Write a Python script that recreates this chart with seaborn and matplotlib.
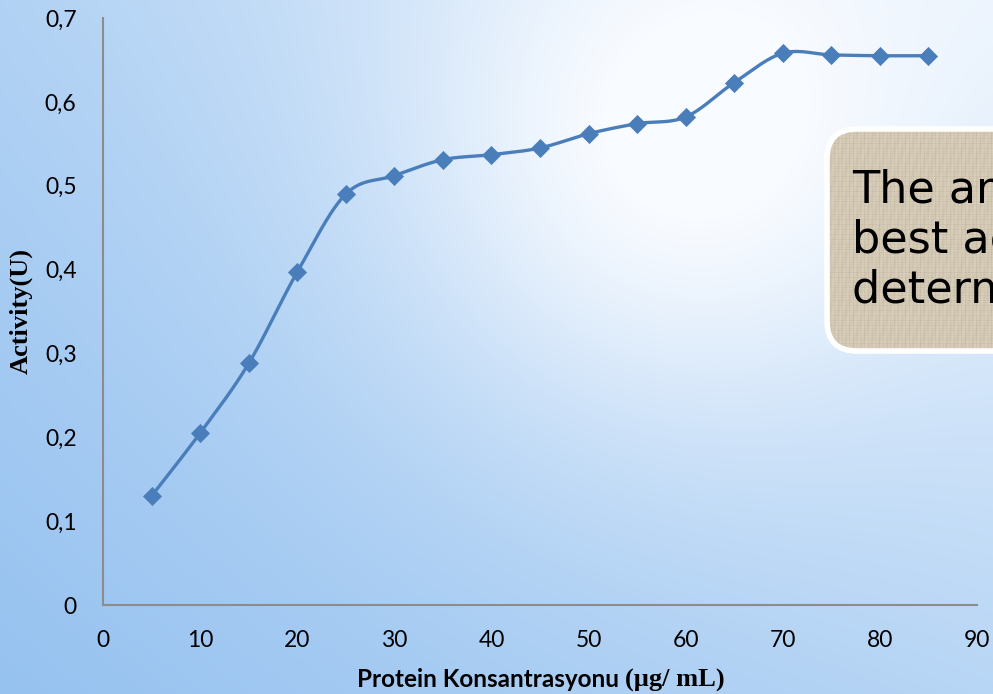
import numpy as np
import pandas as pd
import matplotlib
matplotlib.use("Agg")
import matplotlib.pyplot as plt
import seaborn as sns
from matplotlib.patches import FancyBboxPatch
from matplotlib.colors import to_rgb

# Enzyme activity against protein concentration
concentration = [5, 10, 15, 20, 25, 30, 35, 40, 45, 50, 55, 60, 65, 70, 75, 80, 85]
activity = [0.130, 0.205, 0.288, 0.397, 0.490, 0.512, 0.531, 0.537, 0.545,
            0.562, 0.574, 0.582, 0.623, 0.658, 0.656, 0.655, 0.655]
x_ticks = [0, 10, 20, 30, 40, 50, 60, 70, 80, 90]
y_ticks = [0, 0.1, 0.2, 0.3, 0.4, 0.5, 0.6, 0.7]
y_tick_labels = ["0", "0,1", "0,2", "0,3", "0,4", "0,5", "0,6", "0,7"]
note_lines = ["The amount of protein that gives the",
              "best activity was",
              "determined as 70 µg/mL"]

sns.set_theme(style="white")
plt.rcParams["font.family"] = ["Lato", "DejaVu Sans"]

W, H = 993, 694
fig = plt.figure(figsize=(W / 100, H / 100), dpi=100)

# Blue backdrop: corner-weighted shading with a soft bright spot up right
bg = fig.add_axes([0, 0, 1, 1])
bg.set_xlim(0, W)
bg.set_ylim(H, 0)
bg.axis("off")
yy, xx = np.mgrid[0:H, 0:W]
u, v = xx / W, yy / H
shade = (0.72 * (1 - u) * (1 - v) + 0.18 * u * (1 - v)
         + 1.0 * (1 - u) * v + 0.66 * u * v)
glow = 0.5 * np.exp(-((np.hypot(xx - 660, yy - 170)) / 270) ** 2)
t = np.clip(shade - glow, 0, 1)[..., None]
c_light = np.array(to_rgb("#f8fbff"))
c_blue = np.array(to_rgb("#96c2f0"))
bg.imshow(c_light * (1 - t) + c_blue * t, extent=[0, W, H, 0], aspect="auto", zorder=0)

# Rounded note box with a woven linen fill
box_x0, box_y0, box_x1, box_y1 = 827, 129, 1120, 351
box = FancyBboxPatch((box_x0, box_y0), box_x1 - box_x0, box_y1 - box_y0,
                     boxstyle="round,pad=0,rounding_size=30",
                     facecolor="none", edgecolor="white", lw=4, zorder=3)
bg.add_patch(box)
ty, tx = np.mgrid[box_y0:box_y1, box_x0:W]
weave = (0.55 * np.sin(tx * 2.3) ** 8 + 0.45 * np.sin(ty * 1.9) ** 8
         + 0.25 * np.sin(tx * 0.37 + ty * 0.11) ** 2)
weave = weave / weave.max()
c_linen = np.array(to_rgb("#d9cfbb"))
c_thread = np.array(to_rgb("#aa9f89"))
linen = c_linen * (1 - 0.5 * weave[..., None]) + c_thread * 0.5 * weave[..., None]
tex = bg.imshow(linen, extent=[box_x0, W, box_y1, box_y0], aspect="auto", zorder=2)
tex.set_clip_path(box)
for i, line in enumerate(note_lines):
    bg.text(852, 203 + 50 * i, line, fontsize=32, family="DejaVu Sans",
            color="black", va="baseline", ha="left", zorder=4)

# Chart area
ax = fig.add_axes([103 / W, (H - 605) / H, 874 / W, 587 / H])
ax.patch.set_alpha(0)
ax.set_xlim(0, 90)
ax.set_ylim(0, 0.7)

# Smoothed connecting line (cardinal spline through the measured points)
pts = ax.transData.transform(np.column_stack([concentration, activity]))
ext = np.vstack([pts[0], pts, pts[-1]])
curve = [pts[0]]
s = np.linspace(0, 1, 30)[1:, None]
for i in range(1, len(ext) - 2):
    p0, p1, p2, p3 = ext[i - 1], ext[i], ext[i + 1], ext[i + 2]
    c1 = p1 + (p2 - p0) / 6
    c2 = p2 - (p3 - p1) / 6
    seg = ((1 - s) ** 3) * p1 + 3 * ((1 - s) ** 2) * s * c1 + 3 * (1 - s) * s ** 2 * c2 + s ** 3 * p2
    curve.append(seg)
curve = ax.transData.inverted().transform(np.vstack(curve))
smooth = pd.DataFrame({"x": curve[:, 0], "y": curve[:, 1]})
sns.lineplot(data=smooth, x="x", y="y", sort=False, estimator=None,
             color="#4a7ebb", lw=2.4, ax=ax, zorder=2)
sns.scatterplot(x=concentration, y=activity, marker="D", s=95, color="#4a7ebb",
                edgecolor="#4a7ebb", linewidth=0, ax=ax, zorder=3, clip_on=False)

ax.set_xticks(x_ticks)
ax.set_xticklabels([str(v) for v in x_ticks])
ax.set_yticks(y_ticks)
ax.set_yticklabels(y_tick_labels)
ax.tick_params(length=0, labelsize=16.5, colors="black")
ax.tick_params(axis="y", pad=19)
ax.tick_params(axis="x", pad=18)
sns.despine(ax=ax)
for side in ("left", "bottom"):
    ax.spines[side].set_color("#8c8c8c")
    ax.spines[side].set_linewidth(1.5)

ax.set_xlabel("")
ax.set_ylabel("Activity(U)", family=["Liberation Serif"], fontweight="bold",
              fontsize=19, color="black")
ax.yaxis.set_label_coords(-0.080, 0.5)

# x-axis title: sans part followed by a serif unit
t1 = fig.text(357 / W, 1 - 687 / H, "Protein Konsantrasyonu ", fontsize=17.5,
              fontweight="bold", ha="left", va="baseline", color="black")
fig.canvas.draw()
bb = t1.get_window_extent()
fig.text(bb.x1 / W, 1 - 687 / H, "(µg/ mL)", fontsize=19, fontweight="bold",
         family=["Liberation Serif"], ha="left", va="baseline", color="black")

fig.savefig("out.png", dpi=100)
